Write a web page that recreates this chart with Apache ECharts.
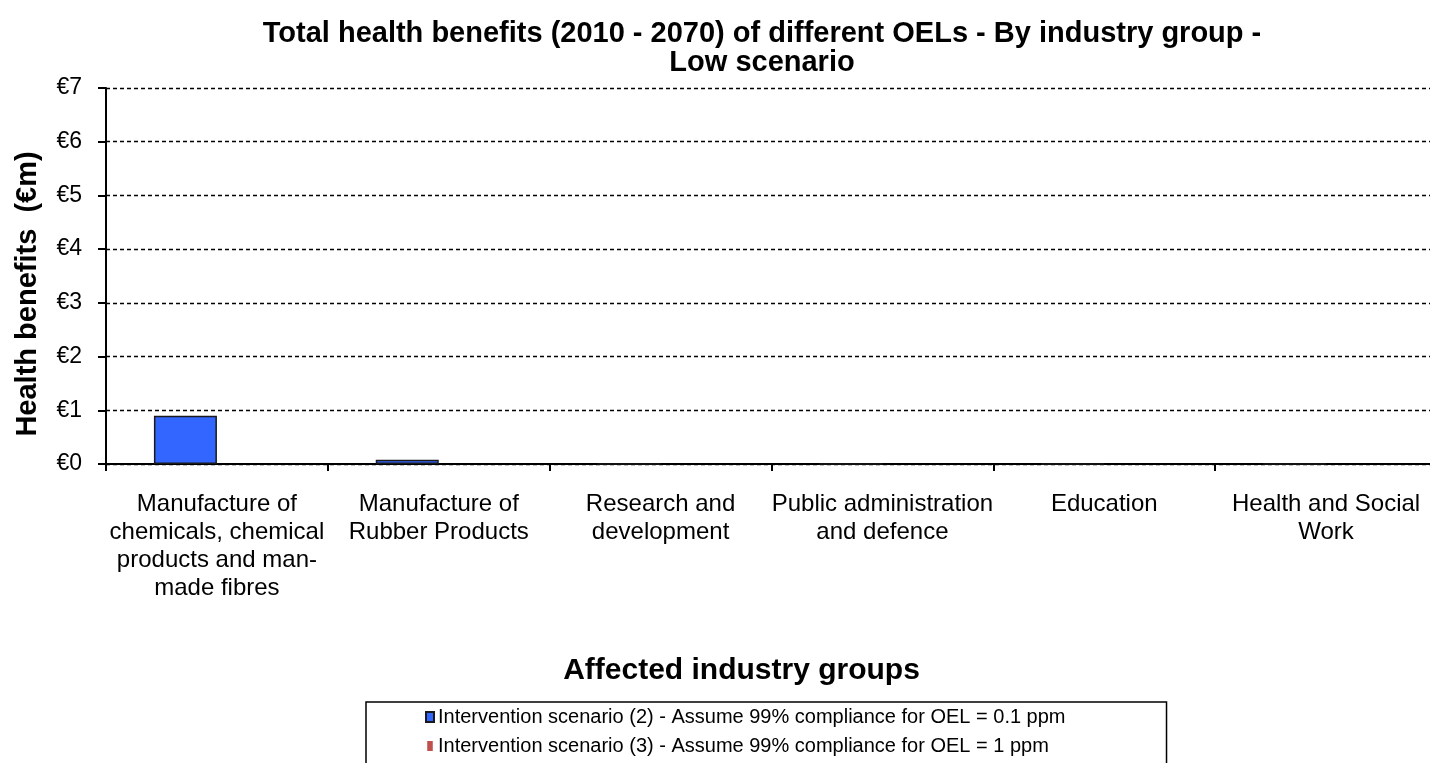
<!DOCTYPE html>
<html>
<head>
<meta charset="utf-8">
<script src="https://cdn.jsdelivr.net/npm/echarts@6/dist/echarts.min.js"></script>
<style>
  html, body { margin: 0; padding: 0; background: #fff; }
  #chart { width: 1430px; height: 763px; }
</style>
</head>
<body>
<div id="chart"></div>
<script>
// Industry groups on the x axis
const industries = [
  'Manufacture of\nchemicals, chemical\nproducts and man-\nmade fibres',
  'Manufacture of\nRubber Products',
  'Research and\ndevelopment',
  'Public administration\nand defence',
  'Education',
  'Health and Social\nWork'
];

// Total health benefits, €m
const scenario2 = [0.9, 0.08, 0, 0, 0, 0];
const scenario3 = [0, 0, 0, 0, 0, 0];

const seriesNames = [
  'Intervention scenario (2) - Assume 99% compliance for OEL = 0.1 ppm',
  'Intervention scenario (3) - Assume 99% compliance for OEL = 1 ppm'
];

const yTicks = { min: 0, max: 7, interval: 1 };

const font = 'Liberation Sans, Arial, sans-serif';
const chart = echarts.init(document.getElementById('chart'), null, { renderer: 'canvas' });

chart.setOption({
  backgroundColor: '#ffffff',
  animation: false,
  title: {
    text: 'Total health benefits (2010 - 2070) of different OELs - By industry group -\nLow scenario',
    left: 757,
    textAlign: 'center',
    top: 14,
    textStyle: { fontFamily: font, fontSize: 29, fontWeight: 'bold', color: '#000', lineHeight: 29 }
  },
  legend: {
    orient: 'vertical',
    left: 366,
    top: 702,
    height: 120,
    padding: [5, 101, 8, 59],
    itemGap: 9,
    itemWidth: 8,
    itemHeight: 10,
    borderColor: '#000',
    borderWidth: 1.5,
    align: 'left',
    textStyle: { fontFamily: font, fontSize: 20, color: '#000', padding: [0, 0, 0, -1] },
    data: [
      { name: seriesNames[0], icon: 'rect' },
      { name: seriesNames[1], icon: 'path://M0,0H5V9H0Z' }
    ]
  },
  grid: {
    left: 106,
    top: 88,
    right: -7,
    bottom: 299,
    outerBoundsMode: 'none'
  },
  xAxis: {
    type: 'category',
    data: industries,
    name: 'Affected industry groups',
    nameLocation: 'middle',
    nameGap: 192,
    nameTextStyle: { fontFamily: font, fontSize: 30, fontWeight: 'bold', color: '#000', padding: [0, 60, 0, 0] },
    axisLine: { lineStyle: { color: '#000', width: 2 } },
    axisTick: { show: true, length: 7, lineStyle: { color: '#000', width: 2 } },
    axisLabel: {
      interval: 0,
      margin: 26,
      fontFamily: font,
      fontSize: 24,
      lineHeight: 28,
      color: '#000'
    },
    splitLine: { show: false }
  },
  yAxis: {
    type: 'value',
    min: yTicks.min,
    max: yTicks.max,
    interval: yTicks.interval,
    name: 'Health benefits  (€m)',
    nameLocation: 'middle',
    nameGap: 64,
    nameRotate: 90,
    nameTextStyle: { fontFamily: font, fontSize: 29, fontWeight: 'bold', color: '#000', padding: [0, 36, 0, 0] },
    axisLine: { show: true, lineStyle: { color: '#000', width: 2 } },
    axisTick: { show: true, length: 8, lineStyle: { color: '#000', width: 2 } },
    axisLabel: {
      margin: 24,
      fontFamily: font,
      fontSize: 23,
      color: '#000',
      formatter: v => '€' + v
    },
    splitLine: { show: true, lineStyle: { color: '#000', width: 1.3, type: [4, 3] } }
  },
  series: [
    {
      name: seriesNames[0],
      type: 'bar',
      data: scenario2,
      barWidth: 63,
      barGap: '0%',
      itemStyle: { color: '#3366FF', borderColor: '#1a1a1a', borderWidth: 1.5 }
    },
    {
      name: seriesNames[1],
      type: 'bar',
      data: scenario3,
      barWidth: 63,
      barGap: '0%',
      itemStyle: { color: '#C0504D', borderColor: '#1a1a1a', borderWidth: 0 }
    }
  ]
});
</script>
</body>
</html>
